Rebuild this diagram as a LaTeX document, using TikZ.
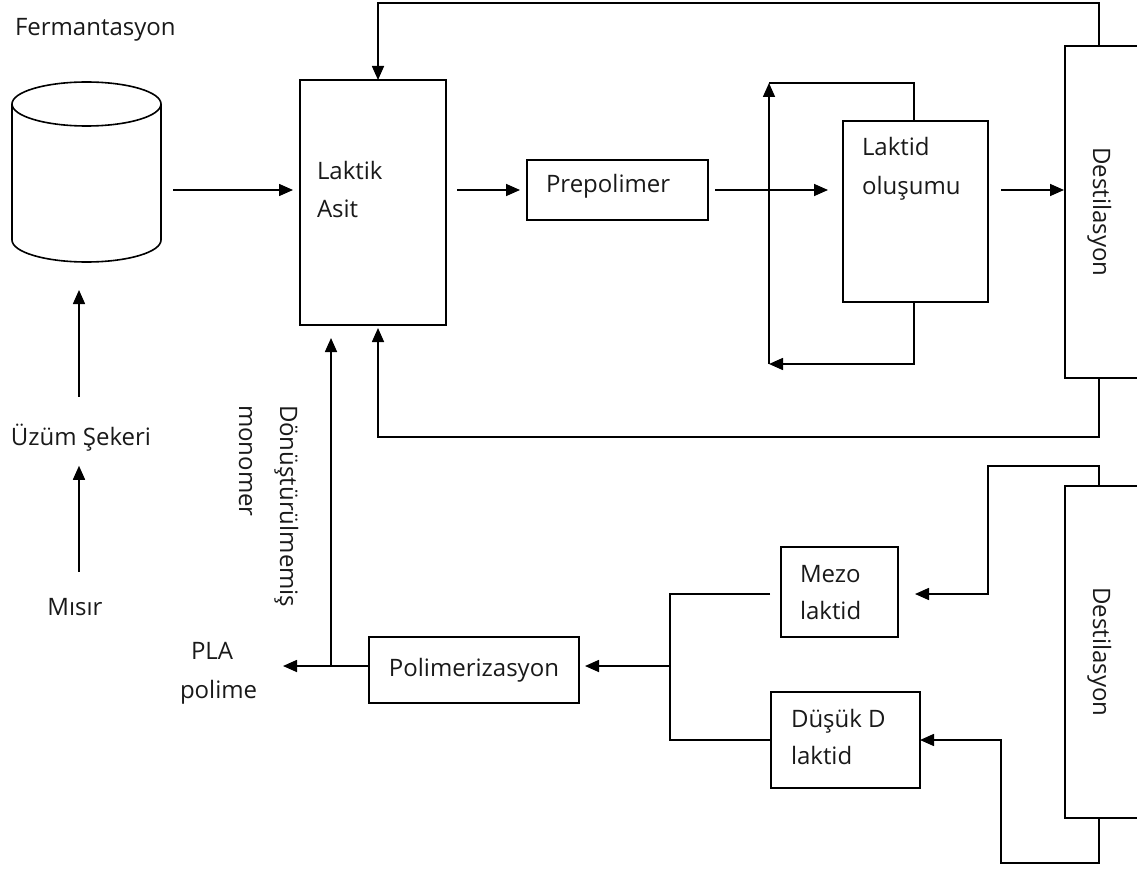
\documentclass[tikz,border=0pt]{standalone}
\usepackage{fontspec}
\setmainfont{Open Sans}
\usetikzlibrary{arrows.meta}
\definecolor{txt}{RGB}{25,25,25}
\begin{document}
\begin{tikzpicture}[x=1pt,y=1pt,
  line width=1.6pt,
  every node/.style={inner sep=0pt, outer sep=0pt, font=\fontsize{24}{29}\selectfont, text=txt},
  arr/.style={-{Triangle[length=14pt,width=12pt]}},
  lbl/.style={anchor=base west},
  vlbl/.style={anchor=base west, rotate=-90},
]
\useasboundingbox (0,0) rectangle (1137,-869);

% ---------- boxes ----------
\node[draw, minimum width=146pt, minimum height=245pt] (lak) at (373,-202.5) {};
\node[draw, minimum width=181pt, minimum height=60pt]  (pre) at (617.5,-190) {};
\node[draw, minimum width=145pt, minimum height=181pt] (lox) at (915.5,-211.5) {};
\node[draw, minimum width=75pt,  minimum height=332pt] (des1) at (1102.5,-212) {};
\node[draw, minimum width=75pt,  minimum height=332pt] (des2) at (1102.5,-652) {};
\node[draw, minimum width=117pt, minimum height=90pt]  (mez) at (839.5,-592) {};
\node[draw, minimum width=149pt, minimum height=96pt]  (dus) at (845.5,-740) {};
\node[draw, minimum width=210pt, minimum height=66pt]  (pol) at (474,-670) {};

% ---------- cylinder ----------
\node[minimum width=149pt, minimum height=180pt] (cyl) at (86.5,-172) {};
\draw ([yshift=-22pt]cyl.north west) -- ([yshift=22pt]cyl.south west)
      arc[start angle=180, end angle=360, x radius=74.5pt, y radius=22pt]
      -- ([yshift=-22pt]cyl.north east);
\draw ([yshift=-22pt]cyl.north) ellipse[x radius=74.5pt, y radius=22pt];

% ---------- texts ----------
\node[lbl] (ferm) at (15,-36) {Fermantasyon};
\node[lbl] (lak1) at (317,-180) {Laktik};
\node[lbl] (lak2) at (317,-218) {Asit};
\node[lbl] (pret) at (546,-193) {Prepolimer};
\node[lbl] (lox1) at (862,-156) {Laktid};
\node[lbl] (lox2) at (862,-195) {oluşumu};
\node[anchor=base, rotate=-90] (des1t) at (1093,-212) {Destilasyon};
\node[anchor=base, rotate=-90] (des2t) at (1093,-652) {Destilasyon};
\node[lbl] (mez1) at (800,-582) {Mezo};
\node[lbl] (mez2) at (800,-619) {laktid};
\node[lbl] (dus1) at (791,-727) {Düşük D};
\node[lbl] (dus2) at (791,-764) {laktid};
\node[anchor=base] (polt) at (474,-676) {Polimerizasyon};
\node[lbl] (pla1) at (191,-659) {PLA};
\node[lbl] (pla2) at (180,-698) {polime};
\node[vlbl] (don) at (280,-405) {Dönüştürülmemiş};
\node[vlbl] (mono) at (239,-405) {monomer};
\node[anchor=base] (uz) at (81,-445) {Üzüm Şekeri};
\node[anchor=base] (mi) at (75,-615) {Mısır};

% ---------- helper coordinates ----------
\coordinate (colx) at (79,0);
\coordinate (lakx) at (378,0);
\coordinate (topc) at (1099,-3);
\coordinate (botc) at (1099,-437);
\coordinate (lt) at (914,-83);
\coordinate (ll) at (769,-83);
\coordinate (lb) at (769,-364);
\coordinate (rb) at (914,-364);
\coordinate (u1) at (1099,-466);
\coordinate (u2) at (988,-466);
\coordinate (u3) at (988,-594);
\coordinate (d1) at (1099,-863);
\coordinate (d2) at (1001,-863);
\coordinate (j)  at (670,-666);
\coordinate (mx) at (331,-666);
\coordinate (pla) at (283,-666);

% ---------- connectors ----------
% left column
\draw[arr, shorten <=26pt, shorten >=15pt] (colx |- mi.north) -- (colx |- uz.south);
\draw[arr, shorten <=27pt, shorten >=28pt] (colx |- uz.north) -- (colx |- cyl.south);
% main line
\draw[arr, shorten <=12pt, shorten >=7pt] (cyl.east |- pre.west) -- (lak.west |- pre.west);
\draw[arr, shorten <=11pt, shorten >=7pt] (lak.east |- pre.west) -- (pre.west);
\draw[arr, shorten <=7pt, shorten >=15pt] (pre.east) -- (lox.west |- pre.east);
\draw[arr, shorten <=13pt, shorten >=1pt] (lox.east |- pre.east) -- (des1.west |- pre.east);
% recycle top and bottom
\draw[arr] (des1.north -| topc) -- (topc) -- (topc -| lakx) -- (lakx |- lak.north);
\draw[arr, shorten >=3pt] (des1.south -| botc) -- (botc) -- (botc -| lakx) -- (lakx |- lak.south);
% laktid loop
\draw (lox.north -| lt) -- (lt) -- (ll);
\draw[arr] (lb) -- (ll);
\draw[arr] (lox.south -| rb) -- (rb) -- (lb);
% lower section
\draw[arr, shorten >=17pt] (des2.north -| u1) -- (u1) -- (u2) -- (u3) -- (u3 -| mez.east);
\draw[arr] (des2.south -| d1) -- (d1) -- (d2) -- (d2 |- dus.east) -- (dus.east);
\draw[shorten <=11pt] (mez.west |- u3) -- (j |- u3) -- (j |- dus.west) -- (dus.west);
\draw[arr, shorten >=6pt] (j) -- (j -| pol.east);
\draw[arr] (pol.west |- j) -- (pla);
\draw[arr, shorten >=13pt] (mx) -- (mx |- lak.south);
\end{tikzpicture}
\end{document}
